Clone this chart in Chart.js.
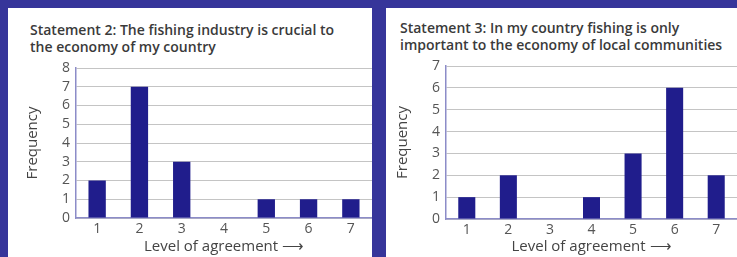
<!DOCTYPE html>
<html>
<head>
<meta charset="utf-8">
<script src="https://cdn.jsdelivr.net/npm/chart.js@4"></script>
<style>
  body { margin: 0; width: 737px; height: 257px; background: #36359a; overflow: hidden; position: relative; font-family: "Open Sans", sans-serif; }
  .panel { position: absolute; top: 8px; height: 249px; background: #fff; }
  .ttl { position: absolute; font-size: 14px; font-weight: 600; line-height: 17px; color: #3a3a3a; white-space: nowrap; }
  canvas { position: absolute; top: 0; left: 0; }
</style>
</head>
<body>
<div class="panel" id="p1" style="left:8px;width:364px;">
  <div class="ttl" style="left:22px;top:13px;">Statement 2: The fishing industry is crucial to<br>the economy of my country</div>
  <canvas id="c1" width="364" height="249"></canvas>
</div>
<div class="panel" id="p2" style="left:386px;width:351px;">
  <div class="ttl" style="left:14px;top:11px;">Statement 3: In my country fishing is only<br>important to the economy of local communities</div>
  <canvas id="c2" width="351" height="249"></canvas>
</div>
<script>
var levels = ['1', '2', '3', '4', '5', '6', '7'];
var statement2 = [2, 7, 3, 0, 1, 1, 1];
var statement3 = [1, 2, 0, 1, 3, 6, 2];
var yMax2 = 8;
var yMax3 = 7;

function drawChart(id, values, yMax, prop) {
	var ctx = document.getElementById(id).getContext('2d');
	return new Chart(ctx, {
		type: 'bar',
		data: {
			labels: levels,
			datasets: [{
				data: values,
				backgroundColor: '#201d8c',
				barPercentage: 0.41,
				categoryPercentage: 1
			}]
		},
		options: {
			responsive: false,
			animation: false,
			layout: { padding: { top: prop.top, left: prop.left, right: 0, bottom: 0 } },
			plugins: { legend: { display: false }, tooltip: { enabled: false } },
			scales: {
				x: {
					grid: { display: false, drawTicks: false },
					border: { color: '#8c8cc8', width: 1.5 },
					ticks: { color: '#555', font: { family: 'Open Sans', size: 14 }, padding: 3 },
					title: { display: true, text: 'Level of agreement \u27F6', color: '#444', font: { family: 'Open Sans', size: 15 }, padding: { top: 0, bottom: 1 } },
					afterFit: function (s) { s.height = prop.xh; }
				},
				y: {
					min: 0, max: yMax,
					grid: { color: '#c4c4c4', drawTicks: false },
					border: { color: '#8c8cc8', width: 1.5 },
					ticks: { stepSize: 1, autoSkip: false, color: '#555', font: { family: 'Open Sans', size: 14 }, padding: 6 },
					title: { display: true, text: 'Frequency', color: '#444', font: { family: 'Open Sans', size: 15 }, padding: { top: prop.tp, bottom: 0 } },
					afterFit: function (s) { s.width = prop.yw; }
				}
			}
		}
	});
}

drawChart('c1', statement2, yMax2, { top: 60, left: 10, tp: 6, yw: 58, xh: 39 });
drawChart('c2', statement3, yMax3, { top: 58, left: 4, tp: 4, yw: 56, xh: 38 });
</script>
</body>
</html>
